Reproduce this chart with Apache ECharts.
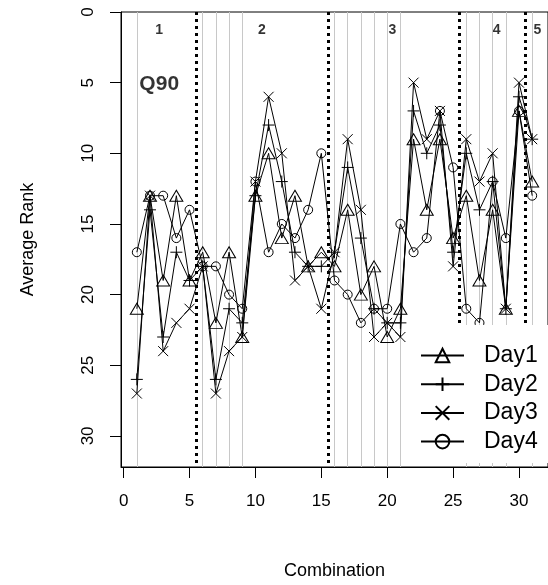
<!DOCTYPE html>
<html><head><meta charset="utf-8">
<script src="https://cdn.jsdelivr.net/npm/echarts@6/dist/echarts.min.js"></script>
<style>html,body{margin:0;padding:0;background:#fff}#c{width:548px;height:585px}</style>
</head><body><div id="c"></div>
<script>
const combos = [1,2,3,4,5,6,7,8,9,10,11,12,13,14,15,16,17,18,19,20,21,22,23,24,25,26,27,28,29,30,31];
const day1 = [21,13,19,13,19,17,22,17,23,13,10,16,13,18,17,18,14,20,18,23,21,9,14,9,16,13,19,14,21,7,12];
const day2 = [26,14,23,17,19,18,26,21,22,13,8,12,17,18,18,17,11,16,21,22,22,7,10,8,17,10,14,12,21,6,9];
const day3 = [27,13,24,22,21,18,27,24,23,12,6,10,19,18,21,17,9,14,23,22,23,5,9,7,18,9,12,10,21,5,9];
const day4 = [17,13,13,16,14,18,18,20,21,12,17,15,16,14,10,19,20,22,21,21,15,17,16,7,11,21,22,12,16,7,13];
const seriesNames = ['Day1','Day2','Day3','Day4'];
const greyLines = [1,6,7,8,9,16,17,18,19,20,21,26,27,28,29,31];
const groupBreaks = [5.5,15.5,25.5,30.5];
const groupNames = ['1','2','3','4','5'];
const groupLabelX = [2.7,10.5,20.4,28.3,31.4];
const groupLabelY = 1.3;
const panelLabel = 'Q90';
const panelLabelPos = [2.7,5.1];
const yTicks = [0,5,10,15,20,25,30];
const xTicks = [0,5,10,15,20,25,30];

const FONT = 'Liberation Sans, Arial, sans-serif';
const symbols = [
  'triangle',
  'path://M0,5L10,5M5,0L5,10',
  'path://M0,0L10,10M10,0L0,10',
  'circle'
];
const sizes = [[13,11],12,10,9];
const datasets = [day1,day2,day3,day4];

const chart = echarts.init(document.getElementById('c'), null, {renderer:'canvas'});
const daySeries = datasets.map((d,k)=>({
  name: seriesNames[k],
  type: 'line',
  data: combos.map((x,i)=>[x,d[i]]),
  symbol: symbols[k],
  symbolSize: sizes[k],
  showSymbol: true,
  lineStyle: {color:'#000', width:1},
  itemStyle: {color:'rgba(0,0,0,0)', borderColor:'#000', borderWidth:1},
  emphasis: {disabled:true},
  z: 2
}));

const option = {
  animation: false,
  backgroundColor: '#fff',
  grid: {left:121, top:12, width:431, height:456, show:true, borderColor:'#000', borderWidth:1, backgroundColor:'transparent'},
  xAxis: {
    type:'value', min:-0.2, max:32.2,
    axisLine:{show:true, onZero:false, lineStyle:{color:'#000'}},
    axisTick:{show:true, length:11, lineStyle:{color:'#000'}, customValues:xTicks},
    axisLabel:{color:'#000', fontSize:17, fontFamily:FONT, margin:26, customValues:xTicks},
    splitLine:{show:false},
    name:'Combination', nameLocation:'middle', nameGap:95,
    nameTextStyle:{color:'#000', fontSize:18, fontFamily:FONT},
    z:10
  },
  yAxis: {
    type:'value', min:0, max:32.2, inverse:true,
    axisLine:{show:true, onZero:false, lineStyle:{color:'#000'}},
    axisTick:{show:true, length:11, lineStyle:{color:'#000'}, customValues:yTicks},
    axisLabel:{color:'#000', fontSize:17, fontFamily:FONT, rotate:90, margin:24, customValues:yTicks},
    splitLine:{show:false},
    name:'Average Rank', nameLocation:'middle', nameGap:84,
    nameTextStyle:{color:'#000', fontSize:18, fontFamily:FONT},
    z:10
  },
  legend: {
    data: seriesNames,
    orient:'vertical', left:410, top:325,
    padding:[19,20,10,10],
    backgroundColor:'#fff',
    itemWidth:43, itemHeight:17, itemGap:5.7,
    textStyle:{color:'#000', fontSize:23, fontFamily:FONT, padding:[0,0,0,15], lineHeight:17},
    selectedMode:false,
    z:4
  },
  series: [
    {
      type:'line', data:[], silent:true, z:1,
      markLine:{silent:true, z:1, symbol:['none','none'], label:{show:false}, animation:false,
        lineStyle:{color:'#c8c8c8', type:'solid', width:1},
        emphasis:{disabled:true},
        data: greyLines.map(x=>({xAxis:x}))}
    },
    {
      type:'line', data:[], silent:true, z:1,
      markLine:{silent:true, z:1, symbol:['none','none'], label:{show:false}, animation:false,
        lineStyle:{color:'#000', type:[3,4], width:3},
        emphasis:{disabled:true},
        data: groupBreaks.map(x=>({xAxis:x}))}
    },
    ...daySeries,
    {
      type:'scatter', silent:true, symbolSize:0, z:6,
      data: groupNames.map((n,i)=>({name:n, value:[groupLabelX[i], groupLabelY]})),
      label:{show:true, position:'inside', formatter:'{b}', color:'#000', fontWeight:'bold', fontSize:14, fontFamily:FONT}
    },
    {
      type:'scatter', silent:true, symbolSize:0, z:6,
      data: [{name:panelLabel, value:panelLabelPos}],
      label:{show:true, position:'inside', formatter:'{b}', color:'#000', fontWeight:'bold', fontSize:21, fontFamily:FONT}
    }
  ]
};
chart.setOption(option);
</script></body></html>
